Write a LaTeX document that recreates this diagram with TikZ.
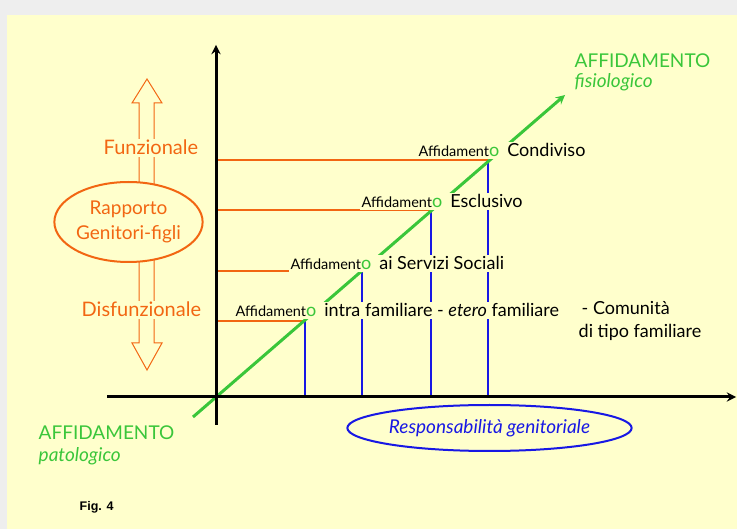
\documentclass[tikz,border=0pt]{standalone}
\usepackage{fontspec}
\setmainfont{Lato}
\newfontfamily\figfont{Liberation Sans}
\usetikzlibrary{arrows,calc,shapes.geometric}

\definecolor{bgyellow}{RGB}{255,255,204}
\definecolor{shadowgray}{RGB}{238,238,238}
\definecolor{rorange}{RGB}{242,102,18}
\definecolor{rgreen}{RGB}{58,198,58}
\definecolor{rblue}{RGB}{24,24,228}

\newcommand{\fsbig}{\fontsize{18}{22}\selectfont}
\newcommand{\fssmall}{\fontsize{14.5}{17}\selectfont}
\newcommand{\fsorange}{\fontsize{20}{25}\selectfont}
\newcommand{\affid}{{\fssmall Affidament}\textcolor{rgreen}{o}\hspace{8pt}}

\begin{document}
\begin{tikzpicture}
      [x = 1pt, y = -1pt,
      axis/.style = {-stealth, line width = 3pt},
      level/.style = {draw = rorange, line width = 2.5pt},
      drop/.style = {draw = rblue, line width = 2.2pt},
      hollow/.style = {draw = rorange, line width = 1pt},
      txt/.style = {
         fill = bgyellow,
         inner sep = 1.5pt,
         anchor = base west,
         font = \fsbig
      },
      orangetxt/.style = {txt, text = rorange, font = \fsorange},
      greentxt/.style = {txt, text = rgreen, font = \fontsize{19}{22}\selectfont}]

      \useasboundingbox (0, 0) rectangle (737, 529);
      \fill[shadowgray] (0, 0) rectangle (737, 529);
      \fill[bgyellow] (7, 15) rectangle (737, 529);

      \coordinate (O) at (216, 397);
      \coordinate (ytop) at (216, 45);
      \coordinate (ybot) at (216, 425);
      \coordinate (xleft) at (107, 397);
      \coordinate (xright) at (736, 397);
      \coordinate (pato) at (193, 417);
      \coordinate (fisio) at (565, 95);
      \coordinate (P1) at (305, 321);
      \coordinate (P2) at (362, 271);
      \coordinate (P3) at (431, 210);
      \coordinate (P4) at (488, 160);

      \foreach \p in {P1, P2, P3, P4} {
         \draw[level] (O |- \p) -- (\p);
         \draw[drop] (\p) -- (\p |- O);
      }
      \draw[-stealth, draw = rgreen, line width = 3pt] (pato) -- (fisio);
      \draw[axis] (ybot) -- (ytop);
      \draw[axis] (xleft) -- (xright);

      \draw[hollow] (139, 190) -- (139, 103) -- (132, 103) -- (147, 79)
         -- (162, 103) -- (154, 103) -- (154, 190);
      \draw[hollow] (139, 254) -- (139, 343) -- (132, 343) -- (147, 370)
         -- (162, 343) -- (154, 343) -- (154, 254);

      \node[draw = rorange, line width = 2pt, fill = bgyellow, ellipse,
         minimum width = 141pt, minimum height = 80pt, inner sep = 0pt,
         align = center, text = rorange, font = \fontsize{19}{25}\selectfont]
         (rapporto) at (128.5, 222) {Rapporto\\Genitori-figli};
      \node[draw = rblue, line width = 2pt, ellipse,
         minimum width = 257pt, minimum height = 46pt, inner sep = 0pt,
         text = rblue, font = \fontsize{19}{22}\selectfont\itshape]
         (resp) at (489.5, 428) {Responsabilità genitoriale};

      \node[orangetxt] (fun) at (102, 155) {Funzionale};
      \node[orangetxt] (disfun) at (80, 317) {Disfunzionale};

      \node[txt] (condiviso) at (417, 157) {\affid Condiviso};
      \node[txt] (esclusivo) at (360, 208) {\affid Esclusivo};
      \node[txt] (servizi) at (289, 270) {\affid ai Servizi Sociali};
      \node[txt] (intra) at (234, 317) {\affid intra familiare - \textit{etero} familiare};
      \node[txt] (comunita1) at (580, 315) {- Comunità};
      \node[txt] (comunita2) at (577, 338) {di tipo familiare};

      \node[greentxt] (fisio1) at (573, 68) {AFFIDAMENTO};
      \node[greentxt] (fisio2) at (573, 88) {\itshape fisiologico};
      \node[greentxt] (pato1) at (37, 440) {AFFIDAMENTO};
      \node[greentxt] (pato2) at (37, 461) {\itshape patologico};

      \node[txt, font = \figfont\bfseries\fontsize{12.5}{15}\selectfont]
         (fig) at (78, 511) {Fig. 4};

   \end{tikzpicture}
\end{document}
